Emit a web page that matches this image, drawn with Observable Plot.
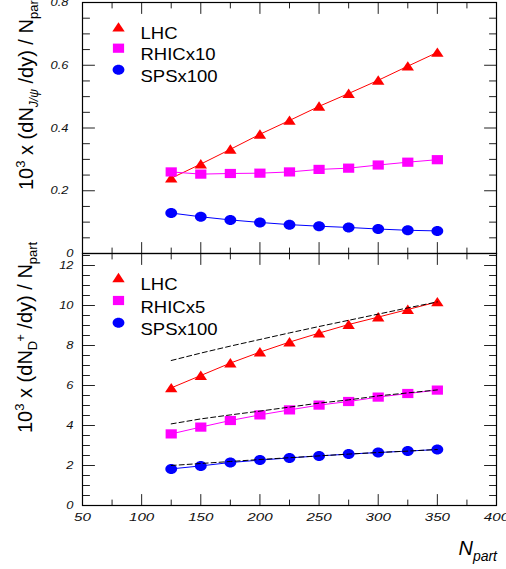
<!DOCTYPE html>
<html><head><meta charset="utf-8">
<script src="https://cdn.jsdelivr.net/npm/d3@7"></script>
<script src="https://cdn.jsdelivr.net/npm/@observablehq/plot@0.6"></script>
<style>
html,body{margin:0;padding:0;background:#fff;}
#wrap{position:relative;width:506px;height:569px;overflow:hidden;background:#fff;}
</style></head><body><div id="wrap"></div>
<script>
// ---------- data ----------
const npart = [125, 150, 175, 200, 225, 250, 275, 300, 325, 350];
// J/psi panel (10^3 dN/dy / Npart)
const jpsiLHC  = [0.240, 0.285, 0.332, 0.380, 0.424, 0.469, 0.510, 0.552, 0.597, 0.641];
const jpsiRHIC = [0.260, 0.253, 0.255, 0.256, 0.260, 0.268, 0.272, 0.282, 0.291, 0.299];
const jpsiSPS  = [0.129, 0.117, 0.107, 0.099, 0.092, 0.087, 0.083, 0.078, 0.074, 0.072];
// D+ panel
const dLHC  = [5.88, 6.50, 7.12, 7.67, 8.17, 8.62, 9.05, 9.42, 9.80, 10.18];
const dRHIC = [3.58, 3.92, 4.25, 4.53, 4.78, 5.02, 5.20, 5.42, 5.60, 5.77];
const dSPS  = [1.83, 1.98, 2.15, 2.27, 2.38, 2.48, 2.57, 2.65, 2.72, 2.80];
// dashed reference curves (D+ panel)
const dashLHC  = [7.25, 7.62, 7.97, 8.30, 8.63, 8.95, 9.26, 9.57, 9.88, 10.18];
const dashRHIC = [4.08, 4.33, 4.53, 4.72, 4.92, 5.12, 5.28, 5.48, 5.63, 5.78];
const dashSPS  = [2.00, 2.10, 2.20, 2.30, 2.39, 2.48, 2.57, 2.65, 2.72, 2.80];

const topLegend = ["LHC", "RHICx10", "SPSx100"];
const botLegend = ["LHC", "RHICx5", "SPSx100"];
const seriesColors = ["#ff0000", "#ff00ff", "#0000ff"];

// axes / ticks
const xDomain = [50, 400];
const xLabels = [50, 100, 150, 200, 250, 300, 350, 400];
const xMajor = [100, 150, 200, 250, 300, 350];
const xMinor = [75, 125, 175, 225, 275, 325, 375];
const topDomain = [0, 0.8];
const topLabels = [0.2, 0.4, 0.6, 0.8];
const topMajor = [0.2, 0.4, 0.6];
const topMinor = [0.05, 0.1, 0.15, 0.25, 0.3, 0.35, 0.45, 0.5, 0.55, 0.65, 0.7, 0.75];
const botDomain = [0, 12.6];
const botLabels = [0, 2, 4, 6, 8, 10, 12];
const botMajor = [2, 4, 6, 8, 10, 12];
const botMinor = [0.5, 1, 1.5, 2.5, 3, 3.5, 4.5, 5, 5.5, 6.5, 7, 7.5, 8.5, 9, 9.5, 10.5, 11, 11.5, 12.5];

const FONT = '"Liberation Sans", Arial, Helvetica, sans-serif';

// ---------- custom symbols ----------
const triSym = {draw(c) { c.moveTo(0, -5); c.lineTo(6.2, 4.4); c.lineTo(-6.2, 4.4); c.closePath(); }};
const sqSym  = {draw(c) { c.moveTo(-5.6, -4.6); c.lineTo(5.6, -4.6); c.lineTo(5.6, 4.6); c.lineTo(-5.6, 4.6); c.closePath(); }};
const ellSym = {draw(c) {
  const rx = 5.9, ry = 5.0, k = 0.5523;
  c.moveTo(rx, 0);
  c.bezierCurveTo(rx, ry * k, rx * k, ry, 0, ry);
  c.bezierCurveTo(-rx * k, ry, -rx, ry * k, -rx, 0);
  c.bezierCurveTo(-rx, -ry * k, -rx * k, -ry, 0, -ry);
  c.bezierCurveTo(rx * k, -ry, rx, -ry * k, rx, 0);
  c.closePath();
}};
const symbols = [triSym, sqSym, ellSym];
const tickShape = {draw(c, l) { c.moveTo(0, 0); c.lineTo(0, -l); }};

function rows(a, b, c) {
  return [a, b, c].flatMap((arr, s) => npart.map((n, i) => ({n, v: arr[i], s})));
}

function frameTicks(yd, yMajor, yMinor) {
  const s = {stroke: "#222", strokeWidth: 1, shape: tickShape, anchor: "start"};
  return [
    Plot.vector(xMajor, {...s, x: d => d, y: () => yd[0], length: 11, rotate: 0}),
    Plot.vector(xMinor, {...s, x: d => d, y: () => yd[0], length: 5.5, rotate: 0}),
    Plot.vector(xMajor, {...s, x: d => d, y: () => yd[1], length: 11, rotate: 180}),
    Plot.vector(xMinor, {...s, x: d => d, y: () => yd[1], length: 5.5, rotate: 180}),
    Plot.vector(yMajor, {...s, x: () => xDomain[0], y: d => d, length: 12, rotate: 90}),
    Plot.vector(yMinor, {...s, x: () => xDomain[0], y: d => d, length: 7, rotate: 90}),
    Plot.vector(yMajor, {...s, x: () => xDomain[1], y: d => d, length: 12, rotate: -90}),
    Plot.vector(yMinor, {...s, x: () => xDomain[1], y: d => d, length: 7, rotate: -90})
  ];
}

function seriesMarks(data) {
  const out = [];
  for (let s = 0; s < 3; s++) {
    const d = data.filter(r => r.s === s);
    out.push(Plot.line(d, {x: "n", y: "v", stroke: seriesColors[s], strokeWidth: 1}));
    out.push(Plot.dot(d, {x: "n", y: "v", symbol: symbols[s], fill: seriesColors[s], stroke: "none"}));
  }
  return out;
}

function legendMarks(names, dys) {
  const out = [];
  names.forEach((name, i) => {
    out.push(Plot.dot([name], {frameAnchor: "top-left", dx: 36, dy: dys[i], symbol: symbols[i], fill: seriesColors[i], stroke: "none"}));
    out.push(Plot.text([name], {frameAnchor: "top-left", dx: 58, dy: dys[i] + 0.5, text: d => d, textAnchor: "start", fontSize: 16.5, fill: "black"}));
  });
  return out;
}

function stretch(sel, f) {
  sel.each(function () {
    const w = this.getComputedTextLength();
    this.setAttribute("textLength", (w * f).toFixed(1));
    this.setAttribute("lengthAdjust", "spacingAndGlyphs");
  });
}

function place(svg, top) {
  svg.style.position = "absolute";
  svg.style.left = "0px";
  svg.style.top = top + "px";
  svg.style.overflow = "visible";
  svg.style.background = "transparent";
  svg.style.fontFamily = FONT;
  svg.style.maxWidth = "none";
  document.getElementById("wrap").appendChild(svg);
  stretch(d3.select(svg).selectAll('g[aria-label="text"] text'), 1.12);
  stretch(d3.select(svg).selectAll('g[aria-label="y-axis tick label"] text'), 1.12);
}

// ---------- top panel ----------
const topSvg = Plot.plot({
  width: 506, height: 254,
  marginLeft: 82, marginRight: 10, marginTop: 2, marginBottom: 1,
  x: {domain: xDomain, axis: null},
  y: {domain: topDomain, axis: null},
  marks: [
    ...frameTicks(topDomain, topMajor, topMinor),
    Plot.axisY(topLabels, {anchor: "left", tickSize: 0, tickPadding: 14, tickFormat: d => d.toFixed(1), fontSize: 11.5, fontStyle: "italic", label: null, fill: "#111"}),
    Plot.axisY([0], {anchor: "left", tickSize: 0, tickPadding: 9, tickFormat: () => "0", fontSize: 11.5, fontStyle: "italic", label: null, fill: "#111"}),
    ...seriesMarks(rows(jpsiLHC, jpsiRHIC, jpsiSPS)),
    ...legendMarks(topLegend, [24.7, 45.7, 67.3]),
    Plot.frame({stroke: "black", strokeWidth: 1.2})
  ]
});
place(topSvg, 0);

// ---------- bottom panel ----------
const dashRows = rows(dashLHC, dashRHIC, dashSPS);
const botSvg = Plot.plot({
  width: 506, height: 326,
  marginLeft: 82, marginRight: 10, marginTop: 10, marginBottom: 64,
  x: {domain: xDomain, axis: null},
  y: {domain: botDomain, axis: null},
  marks: [
    ...frameTicks(botDomain, botMajor, botMinor),
    Plot.axisY(botLabels, {anchor: "left", tickSize: 0, tickPadding: 9, fontSize: 11.5, fontStyle: "italic", label: null, fill: "#111"}),
    Plot.axisX(xLabels, {anchor: "bottom", tickSize: 0, tickPadding: 7, fontSize: 11.5, fontStyle: "italic", label: null, fill: "#111"}),
    ...seriesMarks(rows(dLHC, dRHIC, dSPS)),
    Plot.line(dashRows, {x: "n", y: "v", z: "s", stroke: "black", strokeWidth: 1, strokeDasharray: "5,3"}),
    ...legendMarks(botLegend, [24.3, 47, 69.3]),
    Plot.frame({stroke: "black", strokeWidth: 1.2})
  ]
});
place(botSvg, 243);
stretch(d3.select(botSvg).selectAll('g[aria-label="x-axis tick label"] text'), 1.32);

// ---------- axis titles ----------
const ov = d3.select("#wrap").append("svg")
  .attr("width", 506).attr("height", 569)
  .style("position", "absolute").style("left", "0px").style("top", "0px")
  .style("overflow", "visible").style("font-family", FONT);

function ytitle(x, y, parts) {
  const t = ov.append("text")
    .attr("transform", `translate(${x},${y}) rotate(-90)`)
    .attr("font-size", 20).attr("fill", "black");
  parts.forEach(p => {
    const ts = t.append("tspan").text(p.t);
    if (p.dy) ts.attr("dy", p.dy);
    if (p.dx) ts.attr("dx", p.dx);
    if (p.fs) ts.attr("font-size", p.fs);
    if (p.it) ts.attr("font-style", "italic");
  });
}
ytitle(33, 190, [
  {t: "10"}, {t: "3", fs: 13, dy: -8}, {t: " x (dN", dy: 8},
  {t: "J/ψ", fs: 12, dy: 5, it: true}, {t: " /dy) / N", dy: -5}, {t: "part", fs: 13, dy: 5}
]);
ytitle(32, 433, [
  {t: "10"}, {t: "3", fs: 13, dy: -8}, {t: " x (dN", dy: 8},
  {t: "D", fs: 13, dy: 5}, {t: "+", fs: 13, dx: -1, dy: -12}, {t: " /dy) / N", dy: 7}, {t: "part", fs: 13, dy: 5}
]);
const xt = ov.append("text").attr("x", 497).attr("y", 555).attr("text-anchor", "end")
  .attr("font-style", "italic").attr("fill", "black");
xt.append("tspan").text("N").attr("font-size", 20);
xt.append("tspan").text("part").attr("font-size", 14).attr("dy", 6);
</script></body></html>
